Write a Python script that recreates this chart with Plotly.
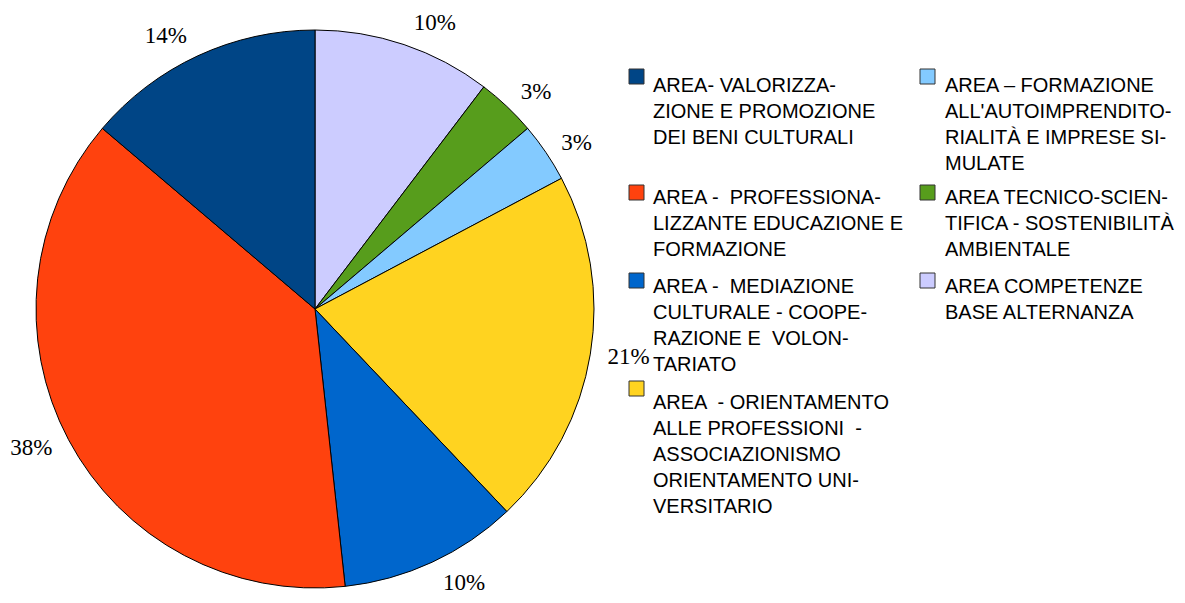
import plotly.graph_objects as go

# ---- data ----
categories = [
    "AREA- VALORIZZA-<br>ZIONE E PROMOZIONE<br>DEI BENI CULTURALI",
    "AREA -  PROFESSIONA-<br>LIZZANTE EDUCAZIONE E<br>FORMAZIONE",
    "AREA -  MEDIAZIONE<br>CULTURALE - COOPE-<br>RAZIONE E  VOLON-<br>TARIATO",
    "AREA  - ORIENTAMENTO<br>ALLE PROFESSIONI  -<br>ASSOCIAZIONISMO<br>ORIENTAMENTO UNI-<br>VERSITARIO",
    "AREA – FORMAZIONE<br>ALL'AUTOIMPRENDITO-<br>RIALITÀ E IMPRESE SI-<br>MULATE",
    "AREA TECNICO-SCIEN-<br>TIFICA - SOSTENIBILITÀ<br>AMBIENTALE",
    "AREA COMPETENZE<br>BASE ALTERNANZA",
]
values = [4, 11, 3, 6, 1, 1, 3]
colors = ["#004586", "#ff420e", "#0066cc", "#ffd320", "#83caff", "#579d1c", "#ccccff"]

# ---- layout helpers (pixel geometry) ----
W, H = 1185, 603
cx, cy, r = 315, 309, 279
r_text = 290  # radius of the transparent ring that carries the outside labels


def dom(rad):
    return dict(x=[(cx - rad) / W, (cx + rad) / W],
                y=[1 - (cy + rad) / H, 1 - (cy - rad) / H])


# slices drawn clockwise from 12 o'clock in reverse legend order
rev_labels = categories[::-1]
rev_values = values[::-1]
rev_colors = colors[::-1]

fig = go.Figure()
fig.add_trace(go.Pie(
    labels=rev_labels,
    values=rev_values,
    sort=False,
    direction="clockwise",
    rotation=0,
    marker=dict(colors=rev_colors, line=dict(color="#000000", width=1)),
    textinfo="none",
    hoverinfo="skip",
    showlegend=False,
    domain=dom(r),
))
# transparent companion pie used only to place the percentage labels
fig.add_trace(go.Pie(
    labels=rev_labels,
    values=rev_values,
    sort=False,
    direction="clockwise",
    rotation=0,
    marker=dict(colors=["rgba(0,0,0,0)"] * len(values), line=dict(width=0)),
    texttemplate="%{percent:.0%}",
    textposition="outside",
    textfont=dict(family="Liberation Serif, Times New Roman, serif", size=23, color="#000000"),
    hoverinfo="skip",
    showlegend=False,
    domain=dom(r_text),
))

# manual legend: two columns, rows aligned across columns
col_x_box = [629, 920]
col_x_text = [651, 943]
row_box_top = [69, 185, 273, 381]
row_text_center = [86, 198, 287, 403]
positions = [(0, 0), (0, 1), (0, 2), (0, 3), (1, 0), (1, 1), (1, 2)]
box = 15
for i, (c, rw) in enumerate(positions):
    x0 = col_x_box[c]
    y0 = row_box_top[rw]
    fig.add_shape(type="rect", xref="paper", yref="paper",
                  x0=x0 / W, x1=(x0 + box) / W,
                  y0=1 - (y0 + box) / H, y1=1 - y0 / H,
                  fillcolor=colors[i], line=dict(color="#333333", width=1))
    fig.add_annotation(xref="paper", yref="paper",
                       x=col_x_text[c] / W, y=1 - (row_text_center[rw] - 14) / H,
                       xanchor="left", yanchor="top", align="left",
                       text=categories[i], showarrow=False,
                       font=dict(family="Liberation Sans, Arial, sans-serif", size=20, color="#000000"))

fig.update_layout(
    width=W, height=H,
    margin=dict(l=0, r=0, t=0, b=0),
    paper_bgcolor="white", plot_bgcolor="white",
)
fig.write_html("out.html",
               config={"displayModeBar": False},
               post_script="document.body.style.margin='0';document.body.style.overflow='hidden';")
